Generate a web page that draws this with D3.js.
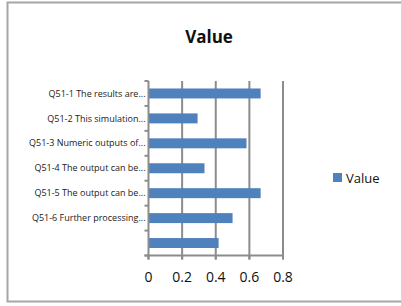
<!DOCTYPE html>
<html>
<head>
<meta charset="utf-8">
<script src="https://cdn.jsdelivr.net/npm/d3@7"></script>
<style>
  body { margin: 0; background: #fff; }
  svg { display: block; font-family: "Open Sans", "DejaVu Sans", sans-serif; }
</style>
</head>
<body>
<div id="chart"></div>
<script>
// categories, top to bottom (last one has an empty label)
const categories = [
    "Q51-1 The results are...",
    "Q51-2 This simulation...",
    "Q51-3 Numeric outputs of...",
    "Q51-4 The output can be...",
    "Q51-5 The output can be...",
    "Q51-6 Further processing...",
    ""
];
const values = [0.667, 0.292, 0.583, 0.333, 0.667, 0.5, 0.417];
const xTicks = [0, 0.2, 0.4, 0.6, 0.8];
const seriesName = "Value";

const width = 401, height = 306;
const barColor = "#4f81bd";
const gridColor = "#8c8c8c";

const svg = d3.select("#chart")
    .append("svg")
    .attr("width", width)
    .attr("height", height);

// outer chart border
svg.append("rect")
    .attr("x", 7.5).attr("y", 2.5)
    .attr("width", 398).attr("height", 299)
    .attr("fill", "#fff")
    .attr("stroke", "#a6a6a6")
    .attr("stroke-width", 2);

svg.append("text")
    .attr("x", 209).attr("y", 43)
    .attr("text-anchor", "middle")
    .style("font-size", "17px")
    .style("font-weight", "bold")
    .attr("fill", "#111")
    .text(seriesName);

const plot = { left: 148.5, right: 283, top: 81, bottom: 255.5 };

const x = d3.scaleLinear().domain([0, 0.8]).range([plot.left, plot.right]);
const y = d3.scaleBand()
    .domain(d3.range(categories.length))
    .range([plot.top, plot.bottom])
    .paddingInner(0.6)
    .paddingOuter(0.3);
const yEdge = d3.scaleLinear().domain([0, categories.length]).range([plot.top, plot.bottom]);

// vertical gridlines
svg.append("g")
    .selectAll("line")
    .data(xTicks.slice(1))
    .join("line")
    .attr("x1", d => x(d)).attr("x2", d => x(d))
    .attr("y1", plot.top).attr("y2", plot.bottom + 4)
    .attr("stroke", gridColor)
    .attr("stroke-width", 2);

// bars
svg.append("g")
    .selectAll("rect")
    .data(values)
    .join("rect")
    .attr("x", x(0))
    .attr("y", (d, i) => y(i))
    .attr("width", d => x(d) - x(0))
    .attr("height", y.bandwidth())
    .attr("fill", barColor);

// y axis line + ticks between categories
const yAxis = svg.append("g");
yAxis.append("line")
    .attr("x1", x(0)).attr("x2", x(0))
    .attr("y1", plot.top).attr("y2", plot.bottom + 4)
    .attr("stroke", gridColor).attr("stroke-width", 2);
yAxis.selectAll(".ytick")
    .data(d3.range(categories.length + 1))
    .join("line")
    .attr("class", "ytick")
    .attr("x1", x(0) - 4).attr("x2", x(0))
    .attr("y1", d => yEdge(d)).attr("y2", d => yEdge(d))
    .attr("stroke", gridColor).attr("stroke-width", 2);
yAxis.selectAll("text")
    .data(categories)
    .join("text")
    .attr("x", x(0) - 3)
    .attr("y", (d, i) => y(i) + y.bandwidth() / 2)
    .attr("dy", "0.35em")
    .attr("text-anchor", "end")
    .style("font-size", "9px")
    .attr("fill", "#222")
    .text(d => d);

// x axis
const xAxis = svg.append("g");
xAxis.append("line")
    .attr("x1", x(0) - 4).attr("x2", x(0.8))
    .attr("y1", plot.bottom).attr("y2", plot.bottom)
    .attr("stroke", gridColor).attr("stroke-width", 2);
xAxis.selectAll(".xtick")
    .data(xTicks)
    .join("line")
    .attr("class", "xtick")
    .attr("x1", d => x(d)).attr("x2", d => x(d))
    .attr("y1", plot.bottom).attr("y2", plot.bottom + 4)
    .attr("stroke", gridColor).attr("stroke-width", 2);
xAxis.selectAll("text")
    .data(xTicks)
    .join("text")
    .attr("x", d => x(d))
    .attr("y", 282)
    .attr("text-anchor", "middle")
    .style("font-size", "14px")
    .attr("fill", "#111")
    .text(d => d3.format("")(d));

// legend
const legend = svg.append("g");
legend.append("rect")
    .attr("x", 333).attr("y", 173)
    .attr("width", 9).attr("height", 9)
    .attr("fill", barColor);
legend.append("text")
    .attr("x", 346).attr("y", 178)
    .attr("dy", "0.35em")
    .style("font-size", "13px")
    .attr("fill", "#111")
    .text(seriesName);
</script>
</body>
</html>
